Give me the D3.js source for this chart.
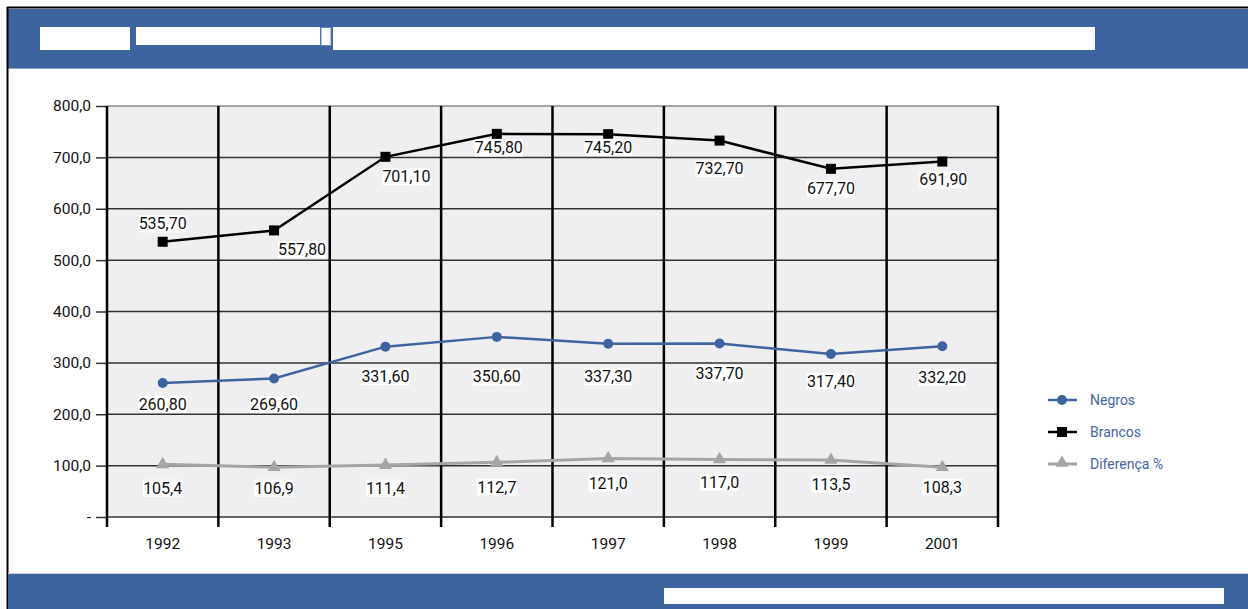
<!DOCTYPE html>
<html><head><meta charset="utf-8">
<script src="https://cdn.jsdelivr.net/npm/d3@7"></script>
<style>
html,body{margin:0;padding:0;background:#fff;}
svg{display:block;}
</style></head>
<body>
<svg id="c" width="1248" height="609"></svg>
<script>
// ---- data ----
const years = ["1992","1993","1995","1996","1997","1998","1999","2001"];
const negros = [260.8, 269.6, 331.6, 350.6, 337.3, 337.7, 317.4, 332.2];
const brancos = [535.7, 557.8, 701.1, 745.8, 745.2, 732.7, 677.7, 691.9];
// Diferença %: positions as plotted in the picture, and the printed labels
const diferencaPlot = [102.5, 96.7, 101.0, 106.4, 114.0, 112.0, 111.0, 96.7];
const diferencaLabels = ["105,4","106,9","111,4","112,7","121,0","117,0","113,5","108,3"];
const negrosLabels = ["260,80","269,60","331,60","350,60","337,30","337,70","317,40","332,20"];
const brancosLabels = ["535,70","557,80","701,10","745,80","745,20","732,70","677,70","691,90"];
const yTicks = [0,100,200,300,400,500,600,700,800];
const seriesNames = ["Negros","Brancos","Diferença %"];

// ---- layout (label placement relative to the points) ----
const brancosOff = [[0,-18],[28,19],[21,20],[2,14],[0,13],[0,28],[0,20],[1,18]];
const negrosOff = [[0,21],[0,26],[0,30],[0,40],[0,33],[0,30],[0,27],[0,31]];
const difLabelY = [488,488,488,487,483,482,484,487];

const BLUE = "#3e64a0";
const FONT = "'Liberation Sans Narrow','Arial Narrow','Roboto',sans-serif";
const svg = d3.select("#c");

// frame / header / footer
svg.append("rect").attr("x",8).attr("y",9).attr("width",1240).attr("height",59).attr("fill",BLUE);
svg.append("line").attr("x1",8).attr("x2",1248).attr("y1",68.5).attr("y2",68.5).attr("stroke","#8ea3c8").attr("stroke-width",1);
svg.append("line").attr("x1",7).attr("x2",1248).attr("y1",7.5).attr("y2",7.5).attr("stroke","#000").attr("stroke-width",2);
svg.append("line").attr("x1",7.5).attr("x2",7.5).attr("y1",7).attr("y2",609).attr("stroke","#000").attr("stroke-width",2);
// header white boxes
[[40,27,90,23],[136,27,184,18],[333,27,762,23]].forEach(b=>{
  svg.append("rect").attr("x",b[0]).attr("y",b[1]).attr("width",b[2]).attr("height",b[3]).attr("fill","#fff");
});
svg.append("rect").attr("x",321).attr("y",27.5).attr("width",10).attr("height",18).attr("fill","#fff").attr("stroke","#6b86b8").attr("stroke-width",1);
// footer
svg.append("rect").attr("x",8).attr("y",574).attr("width",1240).attr("height",35).attr("fill",BLUE);
svg.append("line").attr("x1",8).attr("x2",1248).attr("y1",573.5).attr("y2",573.5).attr("stroke","#c9cfda").attr("stroke-width",1);
svg.append("rect").attr("x",664).attr("y",588).attr("width",560).attr("height",16).attr("fill","#fff");

// scales
const x = d3.scaleBand().domain(years).range([107,998]).padding(0);
const y = d3.scaleLinear().domain([0,800]).range([517,106]);
const cx = d => x(d) + x.bandwidth()/2;

// plot background
svg.append("rect").attr("x",107).attr("y",y(800)).attr("width",998-107).attr("height",y(0)-y(800)).attr("fill","#efeff1");

// horizontal grid + y axis
const yAxis = d3.axisLeft(y).tickValues(yTicks).tickSize(11)
  .tickFormat(v => v===0 ? "-" : d3.format(".1f")(v).replace(".",","));
const gy = svg.append("g").attr("transform","translate(107,0)").call(yAxis);
gy.select(".domain").remove();
gy.selectAll(".tick line").attr("stroke","#333").attr("stroke-width",1.5);
gy.selectAll(".tick text").attr("x",-16).attr("font-family",FONT).attr("font-size",15.5).attr("fill","#111");
svg.append("g").selectAll("line").data(yTicks).join("line")
  .attr("x1",107).attr("x2",998).attr("y1",d=>y(d)).attr("y2",d=>y(d))
  .attr("stroke",d=>d===800?"#555":"#333").attr("stroke-width",d=>d===800?1.2:1.5);

// vertical grid (band edges) + x axis
const edges = years.map(d=>x(d)).concat([998]);
svg.append("g").selectAll("line").data(edges).join("line")
  .attr("x1",d=>d).attr("x2",d=>d).attr("y1",y(800)).attr("y2",527)
  .attr("stroke","#000").attr("stroke-width",2.5);
const xAxis = d3.axisBottom(x).tickSize(0).tickPadding(0);
const gx = svg.append("g").attr("transform","translate(0,538)").call(xAxis);
gx.select(".domain").remove();
gx.selectAll(".tick text").attr("font-family",FONT).attr("font-size",15.5).attr("fill","#111").attr("dy","0.71em");

// lines
const line = d3.line().x(d=>cx(d[0])).y(d=>y(d[1]));
const zip = arr => years.map((yr,i)=>[yr,arr[i]]);

function labelWithBg(g, xs, ys, text){
  const t = g.append("text").attr("x",xs).attr("y",ys).attr("text-anchor","middle").attr("dy","0.35em")
    .attr("font-family",FONT).attr("font-size",16).attr("fill","#111").text(text);
  const bb = t.node().getBBox();
  g.insert("rect", () => t.node()).attr("x",bb.x).attr("y",bb.y+1).attr("width",bb.width).attr("height",bb.height-2).attr("fill","#fff");
}

// Diferença
svg.append("path").datum(zip(diferencaPlot)).attr("d",line).attr("fill","none").attr("stroke","#a5a5a5").attr("stroke-width",3);
svg.append("g").selectAll("path").data(zip(diferencaPlot)).join("path")
  .attr("d",d3.symbol().type(d3.symbolTriangle).size(75)).attr("transform",d=>`translate(${cx(d[0])},${y(d[1])})`).attr("fill","#a5a5a5");
// Negros
svg.append("path").datum(zip(negros)).attr("d",line).attr("fill","none").attr("stroke",BLUE).attr("stroke-width",2.5);
svg.append("g").selectAll("circle").data(zip(negros)).join("circle")
  .attr("cx",d=>cx(d[0])).attr("cy",d=>y(d[1])).attr("r",5).attr("fill",BLUE);
// Brancos
svg.append("path").datum(zip(brancos)).attr("d",line).attr("fill","none").attr("stroke","#000").attr("stroke-width",2.5);
svg.append("g").selectAll("rect").data(zip(brancos)).join("rect")
  .attr("x",d=>cx(d[0])-5).attr("y",d=>y(d[1])-5).attr("width",10).attr("height",10).attr("fill","#000");

// data labels
const gl = svg.append("g");
years.forEach((yr,i)=>{
  labelWithBg(gl, cx(yr)+brancosOff[i][0], y(brancos[i])+brancosOff[i][1], brancosLabels[i]);
  labelWithBg(gl, cx(yr)+negrosOff[i][0], y(negros[i])+negrosOff[i][1], negrosLabels[i]);
  labelWithBg(gl, cx(yr), difLabelY[i], diferencaLabels[i]);
});

// legend
const leg = svg.append("g");
const legY = [400,432,464];
seriesNames.forEach((n,i)=>{
  const col = i===0?BLUE:(i===1?"#000":"#a5a5a5");
  leg.append("line").attr("x1",1048).attr("x2",1077).attr("y1",legY[i]).attr("y2",legY[i]).attr("stroke",col).attr("stroke-width",i===2?3:2.5);
  if(i===0) leg.append("circle").attr("cx",1062).attr("cy",legY[i]).attr("r",5).attr("fill",col);
  if(i===1) leg.append("rect").attr("x",1057).attr("y",legY[i]-5).attr("width",10).attr("height",10).attr("fill",col);
  if(i===2) leg.append("path").attr("d",d3.symbol().type(d3.symbolTriangle).size(75)).attr("transform",`translate(1062,${legY[i]-1})`).attr("fill",col);
  leg.append("text").attr("x",1090).attr("y",legY[i]).attr("dy","0.35em").attr("font-family",FONT).attr("font-size",14).attr("fill","#4565a3").text(n);
});
</script>
</body></html>
